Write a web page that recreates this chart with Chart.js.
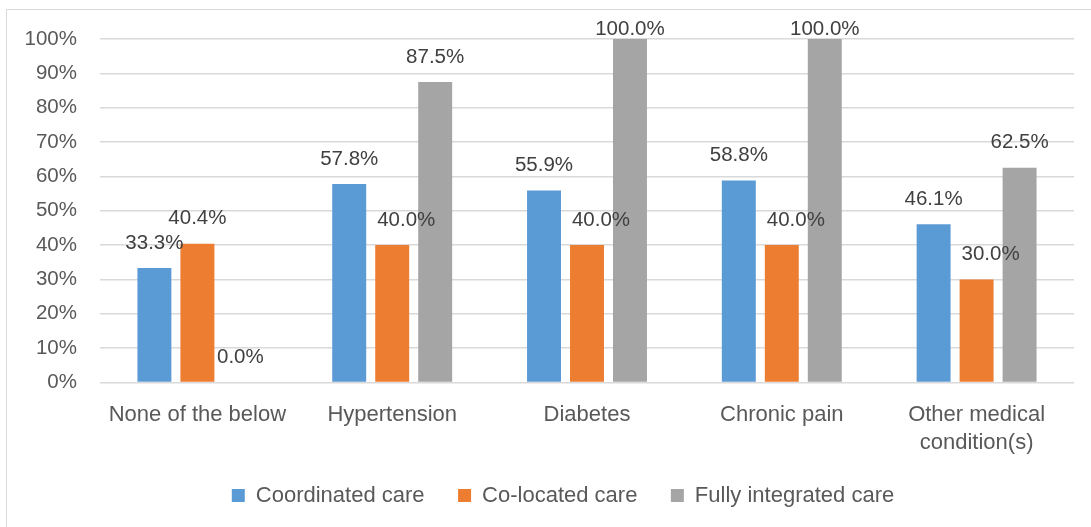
<!DOCTYPE html>
<html>
<head>
<meta charset="utf-8">
<script src="https://cdn.jsdelivr.net/npm/chart.js@4/dist/chart.umd.min.js"></script>
<style>
  html, body { margin: 0; padding: 0; background: #fff; }
  #wrap { position: relative; width: 1091px; height: 527px; overflow: hidden; }
  #frame { position: absolute; left: 6px; top: 9px; width: 1120px; height: 560px; border: 1.5px solid #d9d9d9; box-sizing: border-box; }
  #chart { position: absolute; left: 0; top: 0; }
</style>
</head>
<body>
<div id="wrap">
  <div id="frame"></div>
  <canvas id="chart" width="1091" height="527"></canvas>
</div>
<script>
const categories = ["None of the below", "Hypertension", "Diabetes", "Chronic pain", ["Other medical", "condition(s)"]];
const coordinated = [33.3, 57.8, 55.9, 58.8, 46.1];
const coLocated   = [40.4, 40.0, 40.0, 40.0, 30.0];
const integrated  = [0.0, 87.5, 100.0, 100.0, 62.5];
const seriesNames = ["Coordinated care", "Co-located care", "Fully integrated care"];
const colors = ["#5b9bd5", "#ed7d31", "#a5a5a5"];

Chart.defaults.font.family = "'Liberation Sans', Arial, sans-serif";

// value labels above each bar
const barLabels = {
  id: "barLabels",
  afterDatasetsDraw(chart) {
    const ctx = chart.ctx;
    ctx.save();
    ctx.font = "20.5px 'Liberation Sans', Arial, sans-serif";
    ctx.fillStyle = "#404040";
    ctx.textAlign = "center";
    ctx.textBaseline = "middle";
    chart.data.datasets.forEach((ds, di) => {
      chart.getDatasetMeta(di).data.forEach((bar, i) => {
        let x = bar.x;
        // Excel nudged the orange labels that sit below the blue one
        if (di === 1 && ds.data[i] < chart.data.datasets[0].data[i]) x += 14;
        const y = Math.max(bar.y - 25, 29);
        ctx.fillText(ds.data[i].toFixed(1) + "%", x, y);
      });
    });
    ctx.restore();
  }
};

// nudge the legend box a bit up and right, like the original
const shiftLegend = {
  id: "shiftLegend",
  afterLayout(chart) {
    const lg = chart.legend;
    lg.left += 26;
    lg.right += 26;
    lg.top -= 6.5;
    lg.bottom -= 6.5;
  }
};

new Chart(document.getElementById("chart"), {
  type: "bar",
  data: {
    labels: categories,
    datasets: [
      { label: seriesNames[0], data: coordinated, backgroundColor: colors[0] },
      { label: seriesNames[1], data: coLocated,   backgroundColor: colors[1] },
      { label: seriesNames[2], data: integrated,  backgroundColor: colors[2] }
    ]
  },
  options: {
    responsive: false,
    animation: false,
    layout: { padding: { top: 39, right: 17, left: 0, bottom: 4 } },
    datasets: { bar: { categoryPercentage: 0.662, barPercentage: 0.79, borderWidth: 0 } },
    plugins: {
      legend: {
        position: "bottom",
        maxHeight: 74,
        labels: {
          boxWidth: 13,
          boxHeight: 13,
          padding: 33.5,
          color: "#595959",
          font: { size: 22 }
        }
      },
      tooltip: { enabled: false }
    },
    scales: {
      x: {
        grid: { display: false, drawTicks: false },
        border: { display: false },
        ticks: { color: "#595959", padding: 18, font: { size: 22, lineHeight: 1.3 }, maxRotation: 0 },
        afterFit(scale) { scale.height = 75; }
      },
      y: {
        min: 0,
        max: 100,
        grid: { color: "#d9d9d9", lineWidth: 1.5, drawTicks: false },
        border: { display: false },
        ticks: {
          stepSize: 10,
          padding: 23,
          color: "#595959",
          font: { size: 20.5 },
          callback: v => v + "%"
        },
        afterFit(scale) { scale.width = 100; }
      }
    }
  },
  plugins: [barLabels, shiftLegend]
});
</script>
</body>
</html>
